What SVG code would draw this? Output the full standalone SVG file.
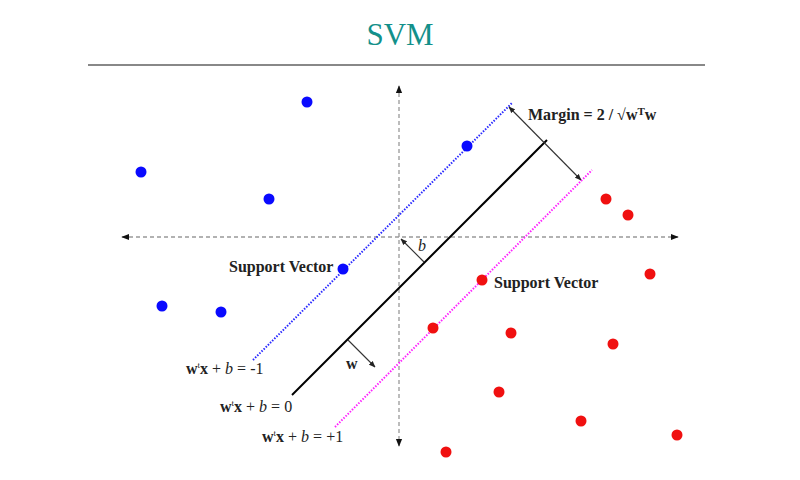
<svg xmlns="http://www.w3.org/2000/svg" width="800" height="480" viewBox="0 0 800 480">
<style>
.t{font-family:"Liberation Serif","Times New Roman",serif;fill:#222}
.b{font-weight:bold}
.axis{stroke:#999;stroke-width:1.3;stroke-dasharray:4 3;fill:none}
.blue{fill:#0a0aff}
.red{fill:#f01010}
.thin{stroke:#333;stroke-width:1.1;fill:none}
</style>
<defs>
<marker id="ah" viewBox="0 0 10 10" refX="9" refY="5" markerWidth="6" markerHeight="6" orient="auto-start-reverse"><path d="M0,1 L10,5 L0,9 z" fill="#111"/></marker>
<marker id="sh" viewBox="0 0 10 10" refX="9" refY="5" markerWidth="6" markerHeight="6" orient="auto-start-reverse"><path d="M0,1 L10,5 L0,9 z" fill="#222"/></marker>
</defs>
<rect width="800" height="480" fill="#fff"/>
<text class="t" x="400" y="45" text-anchor="middle" font-size="31" style="fill:#13908a">SVM</text>
<line x1="88" y1="65" x2="705" y2="65" stroke="#888" stroke-width="2"/>
<g id="connectors">
<line class="axis" x1="122" y1="237" x2="678" y2="237" marker-start="url(#ah)" marker-end="url(#ah)"/>
<line class="axis" x1="399" y1="86" x2="399" y2="446" marker-start="url(#ah)" marker-end="url(#ah)"/>
<line x1="253" y1="360" x2="512" y2="103" stroke="#2a2aff" stroke-width="2" stroke-dasharray="1.5 1.5"/>
<line x1="335" y1="427" x2="592" y2="170" stroke="#ff22ff" stroke-width="2" stroke-dasharray="1.5 1.5"/>
<line x1="292" y1="395" x2="547" y2="140" stroke="#000" stroke-width="2"/>
<line class="thin" x1="509" y1="107" x2="581" y2="180" marker-start="url(#sh)" marker-end="url(#sh)"/>
<line class="thin" x1="424" y1="262" x2="401" y2="239" marker-end="url(#sh)"/>
<line class="thin" x1="348" y1="340" x2="375" y2="367" marker-end="url(#sh)"/>
</g>
<g id="labels">
<text class="t b" x="528" y="120" font-size="16">Margin = 2 / √w<tspan font-size="11" dy="-5">T</tspan><tspan dy="5">w</tspan></text>
<text class="t" x="418" y="251" font-size="16" font-style="italic">b</text>
<text class="t b" x="346" y="369" font-size="16">w</text>
<text class="t b" x="229" y="272" font-size="16">Support Vector</text>
<text class="t b" x="494" y="288" font-size="16">Support Vector</text>
<text class="t" x="186" y="374" font-size="16"><tspan class="b">w</tspan><tspan font-size="9" dy="-6">t</tspan><tspan class="b" dy="6">x</tspan> + <tspan font-style="italic">b</tspan> = -1</text>
<text class="t" x="220" y="412" font-size="16"><tspan class="b">w</tspan><tspan font-size="9" dy="-6">t</tspan><tspan class="b" dy="6">x</tspan> + <tspan font-style="italic">b</tspan> = 0</text>
<text class="t" x="262" y="442" font-size="16"><tspan class="b">w</tspan><tspan font-size="9" dy="-6">t</tspan><tspan class="b" dy="6">x</tspan> + <tspan font-style="italic">b</tspan> = +1</text>
</g>
<g id="blue-points" class="blue">
<circle cx="307" cy="102" r="5.5"/>
<circle cx="141" cy="172" r="5.5"/>
<circle cx="269" cy="199" r="5.5"/>
<circle cx="343" cy="269" r="5.5"/>
<circle cx="162" cy="306" r="5.5"/>
<circle cx="221" cy="312" r="5.5"/>
<circle cx="467" cy="146" r="5.5"/>
</g>
<g id="red-points" class="red">
<circle cx="606" cy="199" r="5.5"/>
<circle cx="628" cy="215" r="5.5"/>
<circle cx="650" cy="274" r="5.5"/>
<circle cx="482" cy="280" r="5.5"/>
<circle cx="433" cy="328" r="5.5"/>
<circle cx="511" cy="333" r="5.5"/>
<circle cx="613" cy="344" r="5.5"/>
<circle cx="499" cy="392" r="5.5"/>
<circle cx="581" cy="421" r="5.5"/>
<circle cx="677" cy="435" r="5.5"/>
<circle cx="446" cy="452" r="5.5"/>
</g>
</svg>
